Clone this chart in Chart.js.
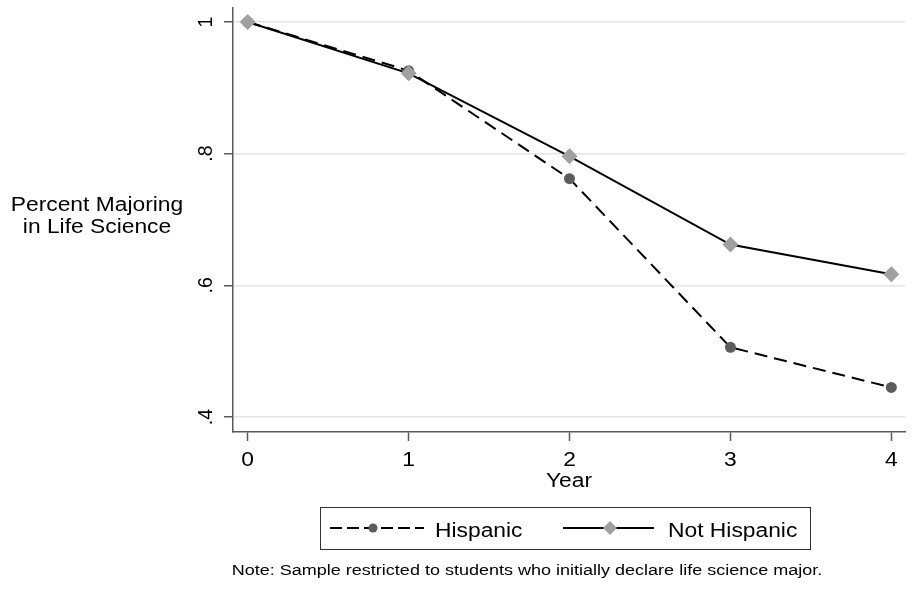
<!DOCTYPE html>
<html>
<head>
<meta charset="utf-8">
<script src="https://cdn.jsdelivr.net/npm/chart.js@4.4.1/dist/chart.umd.min.js"></script>
<style>
  html, body { margin: 0; padding: 0; background: #fff; }
  #wrap { width: 917px; height: 604px; }
</style>
</head>
<body>
<div id="wrap"><canvas id="chart" width="917" height="604"></canvas></div>
<script>
// data
const years = [0, 1, 2, 3, 4];
const hispanic = [1.000, 0.926, 0.762, 0.506, 0.445];
const notHispanic = [1.000, 0.922, 0.796, 0.662, 0.617];
const yTicks = [0.4, 0.6, 0.8, 1];
const yTickLabels = ['.4', '.6', '.8', '1'];
const seriesNames = ['Hispanic', 'Not Hispanic'];
const yTitleLines = ['Percent Majoring', 'in Life Science'];
const xTitle = 'Year';
const note = 'Note: Sample restricted to students who initially declare life science major.';

const FONT = '"Liberation Sans", Arial, sans-serif';
const SX = 1.17;           // the original text is a bit wide
const AXIS = '#5a5a5a';
const DOT = '#5c5c5c';
const DIAMOND = '#a0a0a0';
const DASH = [13, 7];

function wideText(ctx, text, x, y, size, align) {
    ctx.save();
    ctx.font = size + 'px ' + FONT;
    ctx.fillStyle = '#000';
    ctx.textAlign = align;
    ctx.textBaseline = 'alphabetic';
    ctx.translate(x, y);
    ctx.scale(SX, 1);
    ctx.fillText(text, 0, 0);
    ctx.restore();
}

function diamond(ctx, x, y, r, color) {
    ctx.beginPath();
    ctx.moveTo(x, y - r);
    ctx.lineTo(x + r, y);
    ctx.lineTo(x, y + r);
    ctx.lineTo(x - r, y);
    ctx.closePath();
    ctx.fillStyle = color;
    ctx.fill();
}

const textPlugin = {
    id: 'stataText',
    afterDraw(chart) {
        const ctx = chart.ctx;
        const xs = chart.scales.x, ys = chart.scales.y;
        const area = chart.chartArea;

        // y tick labels, rotated like the original
        yTicks.forEach((v, i) => {
            const py = ys.getPixelForValue(v);
            ctx.save();
            ctx.font = '19.5px ' + FONT;
            ctx.fillStyle = '#000';
            ctx.textAlign = 'center';
            ctx.textBaseline = 'alphabetic';
            ctx.translate(212, py);
            ctx.rotate(-Math.PI / 2);
            ctx.fillText(yTickLabels[i], 0, 0);
            ctx.restore();
        });

        // x tick labels
        years.forEach(v => wideText(ctx, String(v), xs.getPixelForValue(v), 466, 19.5, 'center'));
        wideText(ctx, xTitle, (area.left + area.right) / 2, 487, 19.5, 'center');

        // y title, horizontal on two lines
        wideText(ctx, yTitleLines[0], 97, 211, 19.5, 'center');
        wideText(ctx, yTitleLines[1], 97, 233, 19.5, 'center');

        // legend box
        ctx.save();
        ctx.strokeStyle = '#333';
        ctx.lineWidth = 1;
        ctx.strokeRect(320.5, 507.5, 490, 42);
        const ly = 528;
        ctx.lineWidth = 2;
        ctx.strokeStyle = '#000';
        ctx.setLineDash([12, 5]);
        ctx.beginPath(); ctx.moveTo(330, ly); ctx.lineTo(424, ly); ctx.stroke();
        ctx.setLineDash([]);
        ctx.beginPath(); ctx.arc(373, ly, 4.5, 0, Math.PI * 2);
        ctx.fillStyle = DOT; ctx.fill();
        ctx.beginPath(); ctx.moveTo(563, ly); ctx.lineTo(654, ly); ctx.stroke();
        diamond(ctx, 610, ly, 7, DIAMOND);
        ctx.restore();
        wideText(ctx, seriesNames[0], 435, 537, 19.5, 'left');
        wideText(ctx, seriesNames[1], 668, 537, 19.5, 'left');

        // note
        wideText(ctx, note, 527, 575, 15.4, 'center');
    }
};

const toPoints = vals => years.map((yr, i) => ({ x: yr, y: vals[i] }));

new Chart(document.getElementById('chart'), {
    type: 'line',
    data: {
        datasets: [
            {
                label: seriesNames[1], data: toPoints(notHispanic), order: 0,
                borderColor: '#000', borderWidth: 2, tension: 0, fill: false,
                pointStyle: 'rectRot', pointRadius: 8, pointBackgroundColor: DIAMOND, pointBorderWidth: 0
            },
            {
                label: seriesNames[0], data: toPoints(hispanic), order: 1,
                borderColor: '#000', borderWidth: 2, borderDash: DASH, tension: 0, fill: false,
                pointStyle: 'circle', pointRadius: 5.5, pointBackgroundColor: DOT, pointBorderWidth: 0
            }
        ]
    },
    options: {
        responsive: false, animation: false, devicePixelRatio: 1,
        layout: { padding: { left: 0, right: 12, top: 7, bottom: 163 } },
        plugins: { legend: { display: false }, tooltip: { enabled: false } },
        scales: {
            x: {
                type: 'linear', min: -0.0913, max: 4.085,
                afterBuildTicks: s => { s.ticks = years.map(v => ({ value: v })); },
                afterFit: s => { s.height = 9; },
                ticks: { display: false },
                grid: { drawOnChartArea: false, drawTicks: true, tickLength: 9, tickColor: AXIS, tickWidth: 1.5 },
                border: { display: true, color: AXIS, width: 1.5 }
            },
            y: {
                type: 'linear', min: 0.3773, max: 1.0212,
                afterBuildTicks: s => { s.ticks = yTicks.map(v => ({ value: v })); },
                afterFit: s => { s.width = 233; },
                ticks: { display: false },
                grid: { color: '#e4e4e4', lineWidth: 1.5, drawTicks: true, tickLength: 9, tickColor: AXIS, tickWidth: 1.5 },
                border: { display: true, color: AXIS, width: 1.5 }
            }
        }
    },
    plugins: [textPlugin]
});
</script>
</body>
</html>
